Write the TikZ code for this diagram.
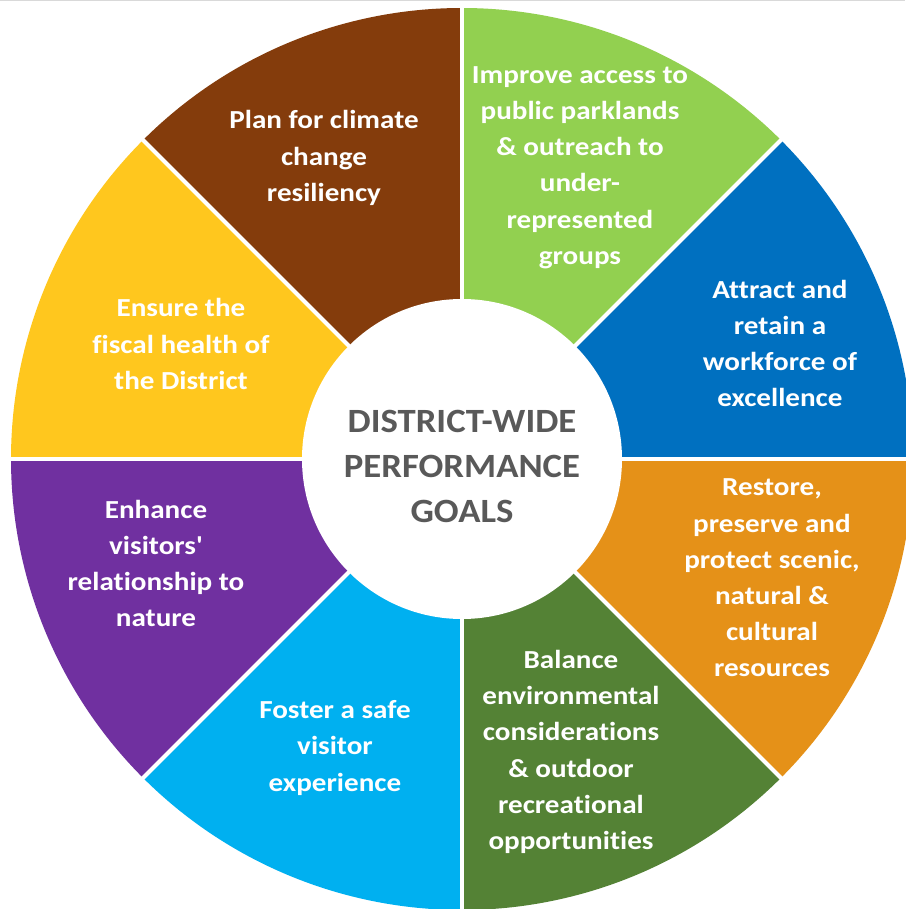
\documentclass[tikz,border=0pt]{standalone}
\usepackage{fontspec}
\setmainfont{Carlito}
\newfontfamily\goalface{Carlito}[FakeStretch=1.12, Ligatures={TeXOff,NoCommon,NoRare}, Contextuals=NoAlternate]
\newfontfamily\hubface{Carlito}[FakeStretch=1.08, Ligatures={NoCommon,NoRare}, Contextuals=NoAlternate]
\begin{document}
\begin{tikzpicture}[x=1pt,y=1pt,
  goal/.style={text=white, font=\goalface\bfseries\fontsize{26}{36.2}\selectfont, align=center, inner sep=0pt},
  hub/.style={text=hubgray, font=\hubface\bfseries\fontsize{34}{45}\selectfont, align=center, inner sep=0pt},
  gap/.style={white, line width=4pt}]
\definecolor{cBrown}{HTML}{843C0C}
\definecolor{cLime}{HTML}{92D050}
\definecolor{cBlue}{HTML}{0070C0}
\definecolor{cOrange}{HTML}{E59118}
\definecolor{cForest}{HTML}{548235}
\definecolor{cSky}{HTML}{00B0F0}
\definecolor{cPurple}{HTML}{7030A0}
\definecolor{cYellow}{HTML}{FFC71E}
\definecolor{hubgray}{HTML}{595959}
\definecolor{edge}{HTML}{D9D9D9}
\def\R{451}
\useasboundingbox[fill=white] (-462,-450) rectangle (443,459);
\coordinate (O) at (0,0);
% eight coloured sectors, counter-clockwise from east
\foreach \a/\c in {0/cBlue,45/cLime,90/cBrown,135/cYellow,180/cPurple,225/cSky,270/cForest,315/cOrange}{
  \fill[\c] (O) -- (\a:\R) arc[start angle=\a, end angle=\a+45, radius=\R] -- cycle;
}
% white separators between sectors
\foreach \a in {0,45,...,315}{
  \draw[gap] (O) -- (\a:\R+5);
}
% central hub
\node[circle, fill=white, minimum size=320pt, inner sep=0pt] (hubdisc) at (O) {};
\node[hub] (hub) at (0,-7) {DISTRICT-WIDE\\PERFORMANCE\\GOALS};
% thin rule along the top edge
\draw[edge, line width=1pt] (-462,458.5) -- (443,458.5);
% goal labels
\node[goal] (climate) at (-138,301) {Plan for climate\\change\\resiliency};
\node[goal] (access) at (118,291.5) {Improve access to\\public parklands\\\& outreach to\\under-\\represented\\groups};
\node[goal] (workforce) at (318,115.5) {Attract and\\retain a\\workforce of\\excellence};
\node[goal] (restore) at (310,-119) {Restore,\\preserve and\\protect scenic,\\natural \&\\cultural\\resources};
\node[goal] (balance) at (109,-293) {Balance\\environmental\\considerations\\\& outdoor\\recreational\\opportunities};
\node[goal] (safety) at (-127,-289) {Foster a safe\\visitor\\experience};
\node[goal] (nature) at (-306,-104.5) {Enhance\\visitors'\\relationship to\\nature};
\node[goal] (fiscal) at (-281,115) {Ensure the\\fiscal health of\\the District};
\end{tikzpicture}
\end{document}
